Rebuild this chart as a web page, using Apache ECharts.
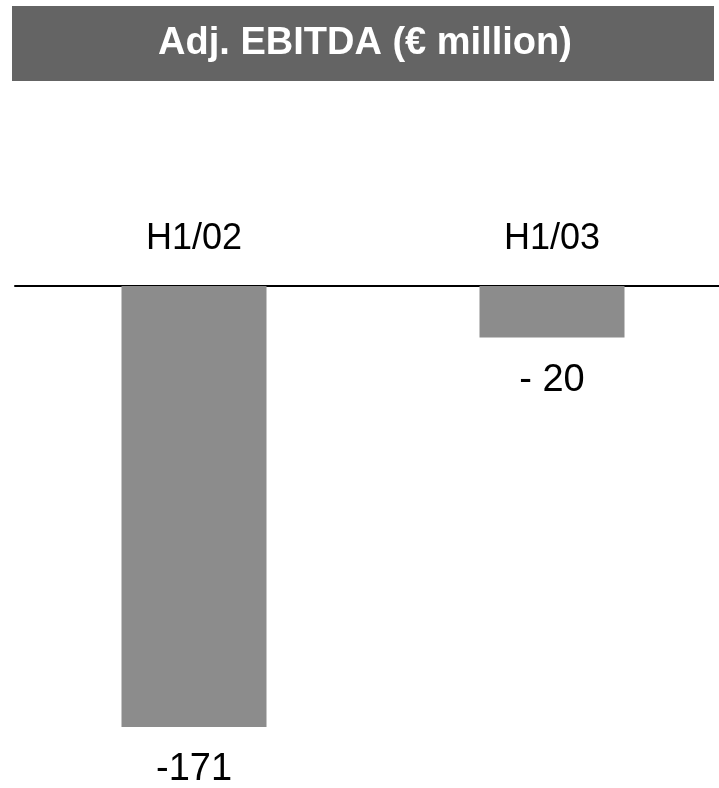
<!DOCTYPE html>
<html>
<head>
<meta charset="utf-8">
<script src="https://cdn.jsdelivr.net/npm/echarts@6/dist/echarts.min.js"></script>
<style>
  html, body { margin: 0; padding: 0; background: #ffffff; overflow: hidden; }
  #chart { width: 731px; height: 788px; }
</style>
</head>
<body>
<div id="chart"></div>
<script>
// Half-year adjusted EBITDA, € million
const periods = ['H1/02', 'H1/03'];
const ebitda = [-171, -20];
const valueLabels = ['-171', '- 20'];
const titleText = 'Adj. EBITDA (€ million)';

const chart = echarts.init(document.getElementById('chart'));

chart.setOption({
  backgroundColor: '#ffffff',
  animation: false,
  graphic: [
    {
      type: 'rect',
      shape: { x: 12, y: 6, width: 702, height: 75 },
      style: { fill: '#646464' },
      z: 0
    },
    {
      type: 'text',
      x: 365,
      y: 44,
      style: {
        text: titleText,
        fill: '#ffffff',
        font: 'bold 38px "Liberation Sans", Arial, sans-serif',
        textAlign: 'center',
        textVerticalAlign: 'middle'
      },
      z: 1
    }
  ],
  grid: { left: 15, top: 286, width: 716, height: 441, containLabel: false },
  xAxis: {
    type: 'category',
    position: 'top',
    data: periods,
    axisLine: { show: true, lineStyle: { color: '#000000', width: 2 } },
    axisTick: { show: false },
    axisLabel: {
      color: '#000000',
      fontSize: 36,
      fontFamily: '"Liberation Sans", Arial, sans-serif',
      margin: 29
    }
  },
  yAxis: {
    type: 'value',
    min: -171,
    max: 0,
    show: false,
    splitLine: { show: false }
  },
  series: [{
    type: 'bar',
    data: ebitda,
    barWidth: 145,
    itemStyle: { color: '#8c8c8c' },
    label: {
      show: true,
      position: 'bottom',
      distance: 24,
      color: '#000000',
      fontSize: 38,
      fontFamily: '"Liberation Sans", Arial, sans-serif',
      formatter: p => valueLabels[p.dataIndex]
    }
  }]
});
</script>
</body>
</html>
